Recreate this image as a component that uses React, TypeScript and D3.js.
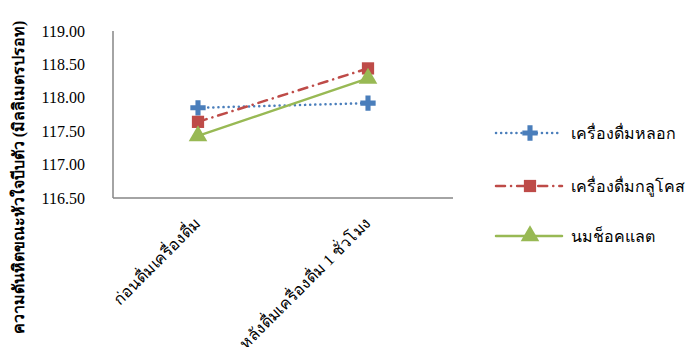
import React from "react";
import * as d3 from "d3";

// Systolic blood pressure before / after each drink
const categories = ["ก่อนดื่มเครื่องดื่ม", "หลังดื่มเครื่องดื่ม 1 ชั่วโมง"];
const seriesNames = ["เครื่องดื่มหลอก", "เครื่องดื่มกลูโคส", "นมช็อคแลต"];
const placeboValues = [117.85, 117.92];
const glucoseValues = [117.64, 118.44];
const chocolateValues = [117.43, 118.29];
const yTicks = [116.5, 117.0, 117.5, 118.0, 118.5, 119.0];
const yTitle = "ความดันหิตขณะหัวใจบีบตัว (มิลลิเมตรปรอท)";

const W = 690;
const H = 347;
const plot = { left: 113, right: 453, top: 31, bottom: 198 };

const colors = ["#4A7EBB", "#BE4B48", "#98B954"];
const dashes = ["0.1 5", "9 6 0.1 6", null];
const symbols = [d3.symbolCross, d3.symbolSquare, d3.symbolTriangle];
const symbolSizes = [130, 150, 150];

const serif = "'Times New Roman', 'Liberation Serif', 'DejaVu Serif', Times, serif";

export default function App() {
  const x = d3
    .scaleBand<string>()
    .domain(categories)
    .range([plot.left, plot.right]);
  const y = d3
    .scaleLinear()
    .domain([116.5, 119])
    .range([plot.bottom, plot.top]);

  const series = [placeboValues, glucoseValues, chocolateValues];
  const line = d3
    .line<number>()
    .x((_, i) => (x(categories[i]) as number) + x.bandwidth() / 2)
    .y((d) => y(d));

  const legendY = [133, 186, 236];

  return (
    <svg
      width={W}
      height={H}
      fontFamily={serif}
      fontSize={16}
      style={{ position: "absolute", left: 0, top: 0, background: "#fff", fontFamily: serif }}
    >
      <rect width={W} height={H} fill="#fff" />
      {/* axes */}
      <line
        x1={plot.left}
        x2={plot.left}
        y1={plot.top}
        y2={plot.bottom}
        stroke="#868686"
        strokeWidth={1.5}
      />
      <line
        x1={plot.left}
        x2={plot.right}
        y1={plot.bottom}
        y2={plot.bottom}
        stroke="#868686"
        strokeWidth={1.5}
      />
      {yTicks.map((t) => (
        <text
          key={t}
          x={85}
          y={y(t) + 5.5}
          textAnchor="end"
          fontFamily={serif}
          fill="#000"
        >
          {t.toFixed(2)}
        </text>
      ))}
      {categories.map((c) => {
        const cx = (x(c) as number) + x.bandwidth() / 2 + 4;
        const cy = plot.bottom + 26;
        return (
          <text
            key={c}
            transform={`translate(${cx},${cy}) rotate(-45)`}
            textAnchor="end"
            fontFamily={serif}
            fill="#000"
          >
            {c}
          </text>
        );
      })}
      <text
        transform={`translate(24,${H / 2 + 4}) rotate(-90)`}
        textAnchor="middle"
        fontFamily={serif}
        fontWeight="bold"
        fill="#000"
      >
        {yTitle}
      </text>

      {/* series */}
      {series.map((vals, si) => (
        <g key={si}>
          <path
            d={line(vals) as string}
            fill="none"
            stroke={colors[si]}
            strokeWidth={2.5}
            strokeLinecap="round"
            strokeDasharray={dashes[si] ?? undefined}
          />
          {vals.map((v, i) => (
            <path
              key={i}
              d={d3.symbol(symbols[si], symbolSizes[si])() as string}
              transform={`translate(${
                (x(categories[i]) as number) + x.bandwidth() / 2
              },${y(v)})`}
              fill={colors[si]}
            />
          ))}
        </g>
      ))}

      {/* legend */}
      {seriesNames.map((name, si) => (
        <g key={name} transform={`translate(0,${legendY[si]})`}>
          <line
            x1={496}
            x2={562}
            y1={0}
            y2={0}
            stroke={colors[si]}
            strokeWidth={2.5}
            strokeLinecap="round"
            strokeDasharray={dashes[si] ?? undefined}
          />
          <path
            d={d3.symbol(symbols[si], symbolSizes[si])() as string}
            transform="translate(530,0)"
            fill={colors[si]}
          />
          <text x={571} y={5.5} fontFamily={serif} fill="#000">
            {name}
          </text>
        </g>
      ))}
    </svg>
  );
}
